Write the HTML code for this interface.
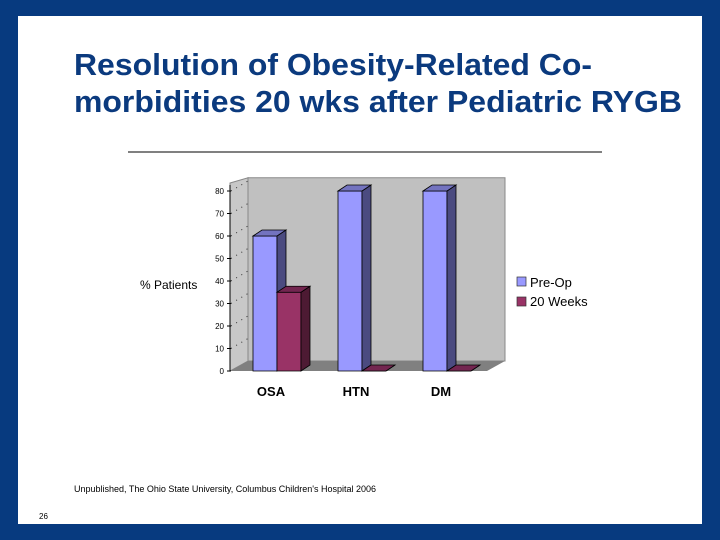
<!DOCTYPE html>
<html><head><meta charset="utf-8"><style>
html,body{margin:0;padding:0;}
body{width:720px;height:540px;background:#073a7f;position:relative;overflow:hidden;font-family:"Liberation Sans",sans-serif;}
#slide{position:absolute;left:18px;top:16px;width:684px;height:508px;background:#fff;}
</style></head><body>
<div id="slide"></div>
<svg width="720" height="540" style="position:absolute;left:0;top:0">
<text x="74" y="75" font-size="31" font-weight="bold" fill="#0b3a7e" textLength="518" lengthAdjust="spacingAndGlyphs" font-family="Liberation Sans,sans-serif">Resolution of Obesity-Related Co-</text>
<text x="74" y="112" font-size="31" font-weight="bold" fill="#0b3a7e" textLength="608" lengthAdjust="spacingAndGlyphs" font-family="Liberation Sans,sans-serif">morbidities 20 wks after Pediatric RYGB</text>
<line x1="128" y1="152" x2="602" y2="152" stroke="#000" stroke-width="1"/>
<g id="plot"></g>
<text x="140" y="289" font-size="12" fill="#000">% Patients</text>
<rect x="517" y="277" width="9" height="9" fill="#9999ff" stroke="#333" stroke-width="0.7"/>
<text x="530" y="287" font-size="13">Pre-Op</text>
<rect x="517" y="297" width="9" height="9" fill="#993366" stroke="#333" stroke-width="0.7"/>
<text x="530" y="306" font-size="13">20 Weeks</text>
<text x="74" y="492" font-size="9">Unpublished, The Ohio State University, Columbus Children's Hospital 2006</text>
<text x="39" y="519" font-size="8">26</text>
</svg>
<script>
const categories=["OSA","HTN","DM"];
const preOp=[60,80,80];
const weeks20=[35,0,0];
const yTicks=[0,10,20,30,40,50,60,70,80];
const NS="http://www.w3.org/2000/svg";
const g=document.getElementById('plot');
const y0=371,scale=2.25,dx=9,dy=-6;
function Y(v){return y0-v*scale;}
function X(i){return 253+i*85;}
function mk(t,a){const e=document.createElementNS(NS,t);for(const k in a)e.setAttribute(k,a[k]);g.appendChild(e);return e;}
let w=mk('polygon',{points:`248,${Y(85)-2} 505,${Y(85)-2} 505,${y0-10} 248,${y0-10}`,fill:'#c0c0c0',stroke:'#888'});


w=mk('polygon',{points:`230,${Y(80)-8} 248,${Y(85)-2} 248,${y0-10} 230,${y0}`,fill:'#c8c8c8',stroke:'#888'});


w=mk('polygon',{points:`230,${y0} 248,${y0-10} 505,${y0-10} 487,${y0}`,fill:'#808080'});


yTicks.forEach(t=>{
 const tx=mk('text',{x:224,y:Y(t)+3,'font-size':8,'text-anchor':'end'});tx.textContent=t;
 
 
 const tl=mk('line',{x1:227,x2:231,y1:Y(t),y2:Y(t),stroke:'#000'});
 
 
 if(t>0){const gl=mk('line',{x1:231,y1:Y(t),x2:248,y2:Y(t)-10,stroke:'#333','stroke-dasharray':'1,5'});
 
 }
});
const ax=mk('line',{x1:230,y1:Y(0),x2:230,y2:Y(80)-6,stroke:'#000'});


function bar(x,v,front,side,top,name){
 const w=24,yt=Y(v);
 const grp=document.createElementNS(NS,'g');g.appendChild(grp);
 
 
 const add=(pts,f)=>{const p=document.createElementNS(NS,'polygon');p.setAttribute('points',pts);p.setAttribute('fill',f);p.setAttribute('stroke','#000');p.setAttribute('stroke-width','0.8');grp.appendChild(p);};
 add(`${x},${yt} ${x+w},${yt} ${x+w},${y0} ${x},${y0}`,front);
 add(`${x+w},${yt} ${x+w+dx},${yt+dy} ${x+w+dx},${y0+dy} ${x+w},${y0}`,side);
 add(`${x},${yt} ${x+dx},${yt+dy} ${x+w+dx},${yt+dy} ${x+w},${yt}`,top);
}
categories.forEach((c,i)=>{
 bar(X(i),preOp[i],'#9999ff','#4b4b80','#7373bf','bar-preop-'+c.toLowerCase());
 bar(X(i)+24,weeks20[i],'#993366','#4d1a33','#732650','bar-20wk-'+c.toLowerCase());
 const t=mk('text',{x:X(i)+18,y:396,'font-size':13,'font-weight':'bold','text-anchor':'middle'});t.textContent=c;
 
 
});
</script>
</body></html>
